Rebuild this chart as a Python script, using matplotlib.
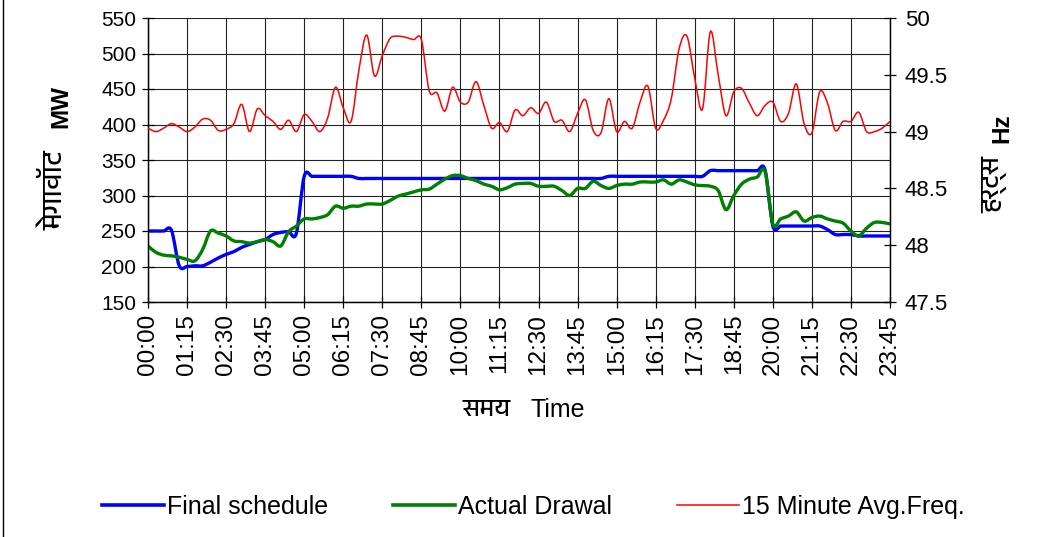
import matplotlib
matplotlib.use("Agg")
import matplotlib.pyplot as plt
from matplotlib import font_manager
from matplotlib.lines import Line2D
from matplotlib.path import Path
from matplotlib.patches import PathPatch

# ---------------- data ----------------
tick_labels = ["00:00", "01:15", "02:30", "03:45", "05:00", "06:15", "07:30",
               "08:45", "10:00", "11:15", "12:30", "13:45", "15:00", "16:15",
               "17:30", "18:45", "20:00", "21:15", "22:30", "23:45"]

final_schedule = [250, 250, 250, 251, 201, 200, 201, 201, 206, 212,
                  217, 221, 227, 231, 235, 238, 245, 248, 249, 247,
                  327, 327, 327, 327, 327, 327, 327, 324, 324, 324,
                  324, 324, 324, 324, 324, 324, 324, 324, 324, 324,
                  324, 324, 324, 324, 324, 324, 324, 324, 324, 324,
                  324, 324, 324, 324, 324, 324, 324, 324, 324, 327,
                  327, 327, 327, 327, 327, 327, 327, 327, 327, 327,
                  327, 327, 335, 335, 335, 335, 335, 335, 335, 336,
                  257, 257, 257, 257, 257, 257, 257, 252, 245, 245,
                  245, 243, 243, 243, 243, 243]

actual_drawal = [229, 220, 216, 215, 213, 210, 208, 224, 250, 247,
                 243, 236, 235, 233, 235, 238, 235, 229, 249, 257,
                 267, 267, 269, 273, 285, 282, 285, 285, 288, 288,
                 288, 293, 299, 302, 305, 308, 309, 316, 323, 328,
                 328, 324, 321, 316, 313, 308, 311, 316, 317, 317,
                 313, 313, 313, 307, 300, 310, 310, 320, 314, 310,
                 314, 316, 316, 319, 319, 319, 322, 316, 322, 319,
                 315, 314, 313, 307, 280, 300, 316, 323, 326, 334,
                 260, 267, 271, 277, 264, 269, 271, 267, 264, 261,
                 250, 243, 254, 262, 262, 260]

avg_freq = [49.03, 49.00, 49.03, 49.07, 49.04, 49.00, 49.04, 49.11, 49.10, 49.01,
            49.02, 49.07, 49.24, 49.00, 49.20, 49.14, 49.09, 49.02, 49.10, 49.00,
            49.15, 49.09, 49.00, 49.12, 49.39, 49.21, 49.09, 49.54, 49.85, 49.49,
            49.67, 49.82, 49.84, 49.83, 49.81, 49.81, 49.36, 49.34, 49.18, 49.39,
            49.26, 49.26, 49.44, 49.23, 49.03, 49.08, 49.00, 49.19, 49.14, 49.21,
            49.16, 49.26, 49.09, 49.10, 49.00, 49.16, 49.28, 49.01, 48.99, 49.29,
            49.00, 49.09, 49.03, 49.26, 49.40, 49.03, 49.10, 49.29, 49.73, 49.84,
            49.47, 49.20, 49.88, 49.50, 49.14, 49.35, 49.38, 49.25, 49.14, 49.23,
            49.26, 49.09, 49.16, 49.42, 49.07, 48.99, 49.35, 49.25, 49.01, 49.09,
            49.09, 49.17, 49.00, 49.00, 49.03, 49.09]

series_names = ["Final schedule", "Actual Drawal", "15 Minute Avg.Freq."]

# ---------------- fonts ----------------
def find_deva_font():
    try:
        from fontTools.ttLib import TTFont
    except Exception:
        return None
    files = font_manager.findSystemFonts()
    files = sorted(files, key=lambda f: (0 if "deva" in f.lower() else 1, f))
    for f in files:
        try:
            tt = TTFont(f, fontNumber=0, lazy=True)
            cmap = tt.getBestCmap()
            if cmap and 0x092E in cmap and 0x0917 in cmap and 0x0938 in cmap:
                return font_manager.FontProperties(fname=f).get_name()
        except Exception:
            continue
    return None

deva = find_deva_font()
base = "Liberation Sans"
plt.rcParams["font.family"] = [base, "DejaVu Sans"]
deva_family = [deva, base, "DejaVu Sans"] if deva else [base, "DejaVu Sans"]


def smooth_path(xs, ys):
    """Excel-style smoothed line: cubic Bezier segments through the data points."""
    n = len(xs)
    verts = [(xs[0], ys[0])]
    codes = [Path.MOVETO]
    for i in range(n - 1):
        x0, y0 = xs[max(i - 1, 0)], ys[max(i - 1, 0)]
        x1, y1 = xs[i], ys[i]
        x2, y2 = xs[i + 1], ys[i + 1]
        x3, y3 = xs[min(i + 2, n - 1)], ys[min(i + 2, n - 1)]
        c1 = (x1 + (x2 - x0) / 6.0, y1 + (y2 - y0) / 6.0)
        c2 = (x2 - (x3 - x1) / 6.0, y2 - (y3 - y1) / 6.0)
        verts += [c1, c2, (x2, y2)]
        codes += [Path.CURVE4, Path.CURVE4, Path.CURVE4]
    return Path(verts, codes)


# ---------------- figure ----------------
W, H = 1052, 537
fig = plt.figure(figsize=(W / 100, H / 100), dpi=100)
L, R, T, B = 148, 890, 18, 302
ax = fig.add_axes([L / W, 1 - B / H, (R - L) / W, (B - T) / H])
ax2 = ax.twinx()

x = list(range(len(final_schedule)))
ax.add_patch(PathPatch(smooth_path(x, final_schedule), fill=False, edgecolor="#0000FF",
                       lw=2.4, capstyle="round", joinstyle="round", zorder=3))
ax.add_patch(PathPatch(smooth_path(x, actual_drawal), fill=False, edgecolor="#008000",
                       lw=2.4, capstyle="round", joinstyle="round", zorder=3))
ax2.add_patch(PathPatch(smooth_path(x, avg_freq), fill=False, edgecolor="#FF0000",
                        lw=1.1, joinstyle="round", zorder=3))

ax.set_xlim(0, len(x) - 1)
ax.set_ylim(150, 550)
ax2.set_ylim(47.5, 50)
ax.set_yticks(range(150, 551, 50))
ax2.set_yticks([47.5, 48, 48.5, 49, 49.5, 50])
ax2.set_yticklabels(["47.5", "48", "48.5", "49", "49.5", "50"])
ax.set_xticks(x[::5])
ax.set_xticklabels(tick_labels, rotation=90, fontsize=17.5)

ax.grid(True, color="#222222", lw=0.8)
ax.set_axisbelow(True)
for a in (ax, ax2):
    a.spines["top"].set_visible(False)
    for s in a.spines.values():
        s.set_color("black")
        s.set_linewidth(0.9)
ax.tick_params(axis="y", direction="inout", length=9, width=0.9, labelsize=15, pad=4)
ax.tick_params(axis="x", direction="inout", length=9, width=0.9, pad=4)
ax2.tick_params(axis="y", direction="inout", length=9, width=0.9, labelsize=16, pad=6)

# axis titles
def px(xp, yp):
    return xp / W, 1 - yp / H

fig.text(*px(61, 106), "MW", rotation=90, ha="center", va="center",
         fontsize=17.5, fontweight="bold")
fig.text(*px(55, 190), "मेगावॉट", rotation=90, ha="center", va="center",
         fontsize=20, family=deva_family)
fig.text(*px(1002, 128), "Hz", rotation=90, ha="center", va="center",
         fontsize=17.5, fontweight="bold")
fig.text(*px(995, 184), "हर्ट्स", rotation=90, ha="center", va="center",
         fontsize=19, family=deva_family)
fig.text(*px(487, 410), "समय", ha="center", va="center",
         fontsize=18, family=deva_family)
fig.text(*px(558, 410), "Time", ha="center", va="center", fontsize=18)

# legend
handles = [Line2D([], [], color="#0000FF", lw=2.6),
           Line2D([], [], color="#008000", lw=2.6),
           Line2D([], [], color="#FF0000", lw=1.1)]
fig.legend(handles, series_names, loc="center", bbox_to_anchor=(533 / W, 1 - 507 / H),
           ncol=3, frameon=False, fontsize=18, handlelength=2.5, handletextpad=0.1,
           columnspacing=2.6)

# chart border (left edge)
fig.add_artist(Line2D([3 / W, 3 / W], [0, 1], color="black", lw=1.0))

fig.savefig("out.png", dpi=100)
